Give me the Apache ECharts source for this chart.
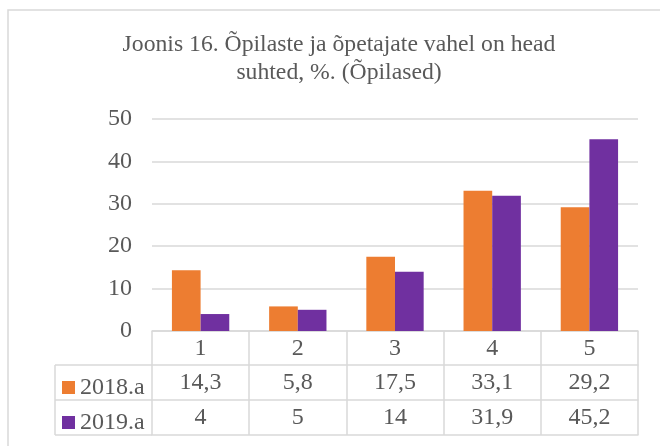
<!DOCTYPE html>
<html>
<head>
<meta charset="utf-8">
<title>Joonis 16</title>
<script src="https://cdn.jsdelivr.net/npm/echarts@6/dist/echarts.min.js"></script>
<style>
  html, body {
    margin: 0;
    padding: 0;
    background: #fff;
  }
  #chart {
    width: 660px;
    height: 446px;
  }
</style>
</head>
<body>
<div id="chart"></div>
<script>
  // andmed
  var categories = ['1', '2', '3', '4', '5'];
  var seriesNames = ['2018.a', '2019.a'];
  var values2018 = [14.3, 5.8, 17.5, 33.1, 29.2];
  var values2019 = [4, 5, 14, 31.9, 45.2];
  var yTicks = [0, 10, 20, 30, 40, 50];

  var FONT = 'Liberation Serif';
  var TXT = '#595959';
  var LINE = '#d9d9d9';
  var ROW_H = 34.5;

  var myChart = echarts.init(document.getElementById('chart'));

  function fmt(v) {
    return String(v).replace('.', ',');
  }

  // tabeli read = lisateljed
  function rowAxis(offset, labels) {
    return {
      type: 'category',
      position: 'bottom',
      offset: offset,
      data: categories,
      axisLine: {show: true, lineStyle: {color: LINE, width: 1.5}},
      axisTick: {show: false},
      axisLabel: {
        show: !!labels,
        interval: 0,
        margin: 0,
        lineHeight: ROW_H,
        fontFamily: FONT,
        fontSize: 24,
        color: TXT,
        formatter: function (v, i) {
          return labels ? fmt(labels[i]) : '';
        }
      }
    };
  }

  let option = {
    backgroundColor: '#fff',
    animation: false,
    title: {
      text: 'Joonis 16. Õpilaste ja õpetajate vahel on head\nsuhted, %. (Õpilased)',
      left: 339,
      top: 31,
      padding: 0,
      textAlign: 'center',
      textStyle: {
        fontFamily: FONT,
        fontSize: 23.7,
        fontWeight: 'normal',
        color: TXT,
        lineHeight: 28
      }
    },
    legend: {
      orient: 'vertical',
      left: 57,
      top: 365,
      itemGap: 0,
      itemWidth: 13,
      itemHeight: 13,
      icon: 'rect',
      data: seriesNames,
      textStyle: {
        fontFamily: FONT,
        fontSize: 24,
        color: TXT,
        lineHeight: 35
      }
    },
    grid: {
      left: 152,
      right: 22,
      top: 119,
      bottom: 115
    },
    xAxis: [
      {
        type: 'category',
        position: 'bottom',
        data: categories,
        axisLine: {show: true, lineStyle: {color: LINE, width: 1.5}},
        axisTick: {show: true, interval: 0, length: 104, lineStyle: {color: LINE, width: 1.5}},
        axisLabel: {
          interval: 0,
          margin: 0,
          lineHeight: ROW_H,
          fontFamily: FONT,
          fontSize: 24,
          color: TXT
        }
      },
      rowAxis(34, values2018),
      rowAxis(69, values2019),
      rowAxis(104, null)
    ],
    yAxis: {
      type: 'value',
      min: yTicks[0],
      max: yTicks[yTicks.length - 1],
      interval: 10,
      axisLine: {show: false},
      axisTick: {show: false},
      splitLine: {lineStyle: {color: LINE, width: 1.5}},
      axisLabel: {
        margin: 20,
        fontFamily: FONT,
        fontSize: 24,
        color: TXT
      }
    },
    series: [
      {
        name: seriesNames[0],
        type: 'bar',
        data: values2018,
        barGap: '0%',
        barCategoryGap: '41%',
        itemStyle: {color: '#ed7d31'}
      },
      {
        name: seriesNames[1],
        type: 'bar',
        data: values2019,
        barGap: '0%',
        barCategoryGap: '41%',
        itemStyle: {color: '#7030a0'}
      }
    ]
  };

  myChart.setOption(option);

  // legendi veerg ja raam
  var x0 = myChart.convertToPixel({gridIndex: 0}, [0, 0]);
  var gridLeft = option.grid.left;
  var tableTop = x0[1];
  var colLeft = 55;
  var lineStyle = {stroke: LINE, lineWidth: 1.5};
  var rows = [34, 69, 104];
  var graphics = rows.map(function (off) {
    return {
      type: 'line',
      shape: {x1: colLeft, y1: tableTop + off, x2: gridLeft, y2: tableTop + off},
      style: lineStyle
    };
  });
  graphics.push({
    type: 'line',
    shape: {x1: colLeft, y1: tableTop + rows[0], x2: colLeft, y2: tableTop + rows[2]},
    style: lineStyle
  });
  graphics.push({
    type: 'rect',
    shape: {x: 8, y: 10, width: 700, height: 500},
    style: {fill: 'none', stroke: LINE, lineWidth: 1.5},
    z: -1
  });
  myChart.setOption({graphic: graphics});
</script>
</body>
</html>
